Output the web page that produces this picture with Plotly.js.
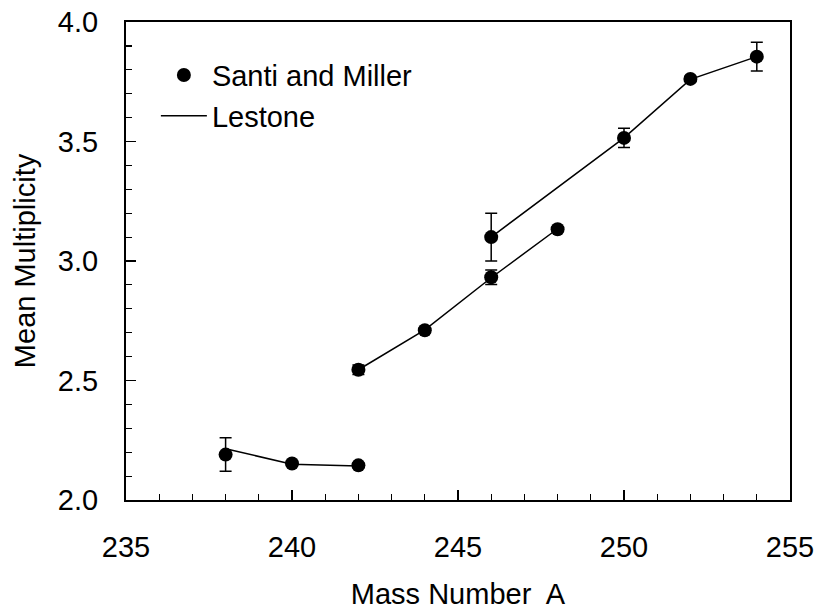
<!DOCTYPE html>
<html>
<head>
<meta charset="utf-8">
<script src="https://cdn.plot.ly/plotly-3.0.1.min.js"></script>
<style>
html,body{margin:0;padding:0;background:#fff;}
#chart{width:823px;height:615px;}
</style>
</head>
<body>
<div id="chart"></div>
<script>
// Santi and Miller data points
var massNumber = [238, 240, 242, 242, 244, 246, 248, 246, 250, 252, 254];
var meanMult   = [2.19, 2.153, 2.145, 2.545, 2.71, 2.932, 3.133, 3.10, 3.515, 3.762, 3.855];
var multErr    = [0.07, 0.01, 0.01, 0.02, 0.01, 0.03, 0.01, 0.10, 0.04, 0.01, 0.06];

// Lestone calculation (three segments)
var lestoneX1 = [238, 240, 242];
var lestoneY1 = [2.214, 2.15, 2.142];
var lestoneX2 = [242, 244, 246, 248];
var lestoneY2 = [2.545, 2.712, 2.93, 3.135];
var lestoneX3 = [246, 250, 252, 254];
var lestoneY3 = [3.10, 3.515, 3.76, 3.855];

var xTicks = [235, 240, 245, 250, 255];
var yTicks = [2.0, 2.5, 3.0, 3.5, 4.0];

var FONT = 'Liberation Sans, Arial, sans-serif';

function lineTrace(x, y, show) {
  return {
    x: x, y: y, type: 'scatter', mode: 'lines',
    name: 'Lestone', legendrank: 2,
    showlegend: show,
    line: {color: '#000', width: 1.5},
    hoverinfo: 'skip'
  };
}

var traces = [
  lineTrace(lestoneX1, lestoneY1, true),
  lineTrace(lestoneX2, lestoneY2, false),
  lineTrace(lestoneX3, lestoneY3, false),
  {
    x: massNumber, y: meanMult, type: 'scatter', mode: 'markers',
    name: 'Santi and Miller', legendrank: 1,
    marker: {color: '#000', size: 14, symbol: 'circle'},
    error_y: {type: 'data', array: multErr, visible: true, color: '#000', thickness: 1.5, width: 6}
  }
];

var layout = {
  width: 823, height: 615,
  margin: {l: 126, r: 33, t: 22, b: 115},
  paper_bgcolor: '#fff', plot_bgcolor: '#fff',
  font: {family: FONT, size: 29, color: '#000'},
  showlegend: true,
  legend: {
    x: 0.045, y: 0.942, xanchor: 'left', yanchor: 'top',
    traceorder: 'normal', tracegroupgap: 0,
    bgcolor: 'rgba(0,0,0,0)', borderwidth: 0,
    font: {family: FONT, size: 29, color: '#000'},
    itemwidth: 46
  },
  xaxis: {
    range: [235, 255],
    tickvals: xTicks, ticktext: xTicks.map(String),
    ticks: 'inside', ticklen: 10, tickwidth: 1.5, tickcolor: '#000',
    minor: {dtick: 1, tick0: 235, ticks: 'inside', ticklen: 6, tickwidth: 1.2, tickcolor: '#000', showgrid: false},
    showline: true, linecolor: '#000', linewidth: 2, mirror: true,
    showgrid: false, zeroline: false,
    ticklabelstandoff: 20,
    tickfont: {family: FONT, size: 29, color: '#000'},
    title: {text: 'Mass Number  A', font: {family: FONT, size: 29, color: '#000'}, standoff: 22}
  },
  yaxis: {
    range: [2.0, 4.0],
    tickvals: yTicks, ticktext: yTicks.map(function(v){return v.toFixed(1);}),
    ticks: 'inside', ticklen: 10, tickwidth: 1.5, tickcolor: '#000',
    minor: {dtick: 0.1, tick0: 2.0, ticks: 'inside', ticklen: 6, tickwidth: 1.2, tickcolor: '#000', showgrid: false},
    showline: true, linecolor: '#000', linewidth: 2, mirror: true,
    showgrid: false, zeroline: false,
    ticklabelstandoff: 20,
    tickfont: {family: FONT, size: 29, color: '#000'},
    title: {text: 'Mean Multiplicity', font: {family: FONT, size: 29, color: '#000'}, standoff: 14}
  }
};

Plotly.newPlot('chart', traces, layout, {displayModeBar: false, staticPlot: true});
</script>
</body>
</html>
